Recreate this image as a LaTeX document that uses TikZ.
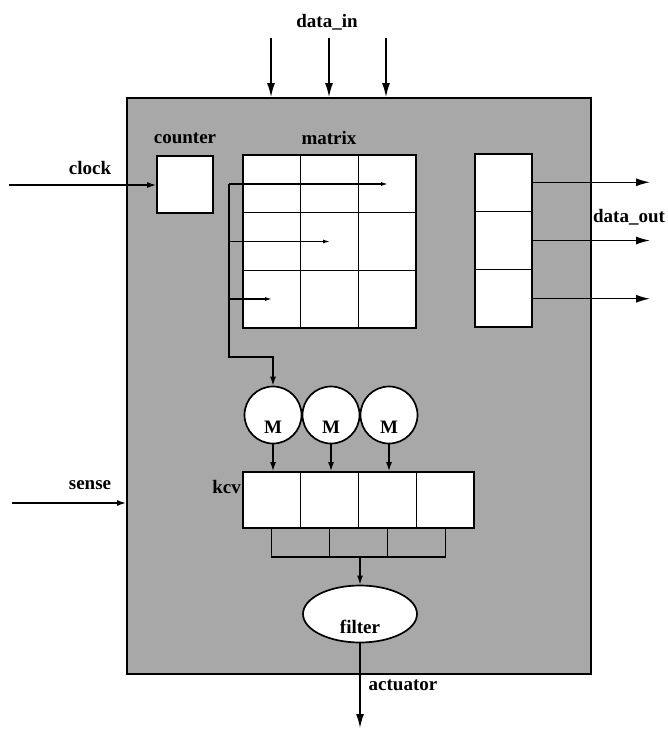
\documentclass[tikz,border=0pt]{standalone}
\usepackage{fontspec}
\setmainfont{Liberation Serif}
\usetikzlibrary{arrows.meta,shapes.geometric,calc}
\begin{document}
\begin{tikzpicture}[x=1pt,y=-1pt,
  lbl/.style={font=\fontsize{19}{22}\selectfont\bfseries, inner sep=0pt},
  wbox/.style={draw, line width=1.7pt, fill=white, inner sep=0pt},
  ln/.style={line width=1.4pt},
  arr/.style={line width=1.4pt, -{Latex[length=14pt,width=8pt]}},
  sarr/.style={line width=1.4pt, -{Latex[length=9pt,width=6pt]}},
  tarr/.style={line width=1.3pt, -{Latex[length=7pt,width=4pt]}},
  grid/.style={line width=1.3pt}]
\useasboundingbox (0,0) rectangle (667,730);
% chip body
\node[draw, line width=1.9pt, fill=black!34, minimum width=464pt, minimum height=576pt, inner sep=0pt] (chip) at (359,386) {};
% blocks
\node[wbox, minimum width=56pt, minimum height=57pt] (cnt) at (185,184.5) {};
\node[wbox, minimum width=173pt, minimum height=173pt] (mat) at (329.5,241.5) {};
\node[wbox, minimum width=57pt, minimum height=173pt] (reg) at (503.5,240.5) {};
\node[wbox, minimum width=231pt, minimum height=56pt] (kcv) at (358.5,500) {};
\foreach \i/\x in {1/273,2/331,3/389}
  \node[wbox, circle, minimum size=57pt, lbl] (m\i) at (\x,415) {\smash{\raisebox{-0.95em}{M}}};
\node[wbox, ellipse, minimum width=114pt, minimum height=57pt, lbl] (flt) at (360,614) {\smash{\raisebox{-1.0em}{filter}}};
% matrix grid
\foreach \f in {1,2}{
  \draw[grid] ($(mat.north west)!\f/3!(mat.north east)$) -- ($(mat.south west)!\f/3!(mat.south east)$);
  \draw[grid] ($(mat.north west)!\f/3!(mat.south west)$) -- ($(mat.north east)!\f/3!(mat.south east)$);
  \draw[grid] ($(reg.north west)!\f/3!(reg.south west)$) -- ($(reg.north east)!\f/3!(reg.south east)$);
}
\foreach \f in {1,2,3}
  \draw[grid] ($(kcv.north west)!\f/4!(kcv.north east)$) -- ($(kcv.south west)!\f/4!(kcv.south east)$);
% labels
\node[lbl] (ldin) at (327,22) {data\_in};
\node[lbl] (lcnt) at (185,138) {counter};
\node[lbl] (lmat) at (329,138) {matrix};
\node[lbl] (lclk) at (90,168) {clock};
\node[lbl] (ldout) at (629,217) {data\_out};
\node[lbl] (lsns) at (90,485) {sense};
\node[lbl, anchor=east] (lkcv) at (241,487) {kcv};
\node[lbl] (lact) at (403,685) {actuator};
% data_in
\foreach \i/\x in {1/271,2/329,3/386}{
  \coordinate (di\i) at (\x,38);
  \draw[arr] (di\i) -- (di\i |- chip.north);
}
% clock, sense
\coordinate (clk) at (9,185);
\draw[sarr] (clk) -- (clk -| cnt.west);
\coordinate (sns) at (12,503);
\draw[sarr] (sns) -- (sns -| chip.west);
% data_out
\foreach \i/\f in {1/0.1667,2/0.5,3/0.8333}{
  \coordinate (do\i) at ($(reg.north east)!\f!(reg.south east)$);
  \coordinate (dt\i) at (650,0);
  \draw[arr] (do\i) -- (do\i -| dt\i);
}
% matrix row lines and bus
\coordinate (bus) at (229,184);
\coordinate (busturn) at (229,357);
\coordinate (r1) at (388,184);
\coordinate (r2) at (330,241.5);
\coordinate (r3) at (272,299);
\draw[tarr] (bus) -- (r1);
\draw[tarr] (r2 -| bus) -- (r2);
\draw[tarr] (r3 -| bus) -- (r3);
\draw[sarr] (bus) -- (busturn) -| (m1.north);
% M to kcv
\foreach \i in {1,2,3}
  \draw[sarr] (m\i.south) -- (m\i.south |- kcv.north);
% kcv to filter
\coordinate (join) at (360,557);
\foreach \i/\f in {1/0.125,2/0.375,3/0.625,4/0.875}
  \coordinate (k\i) at ($(kcv.south west)!\f!(kcv.south east)$);
\draw[ln] (k1) -- (k1 |- join) -- (k4 |- join) -- (k4);
\draw[ln] (k2) -- (k2 |- join);
\draw[ln] (k3) -- (k3 |- join);
\draw[sarr] (join) -- (flt.north);
% actuator
\coordinate (act) at (360,728);
\draw[arr] (flt.south) -- (act);
\end{tikzpicture}
\end{document}
